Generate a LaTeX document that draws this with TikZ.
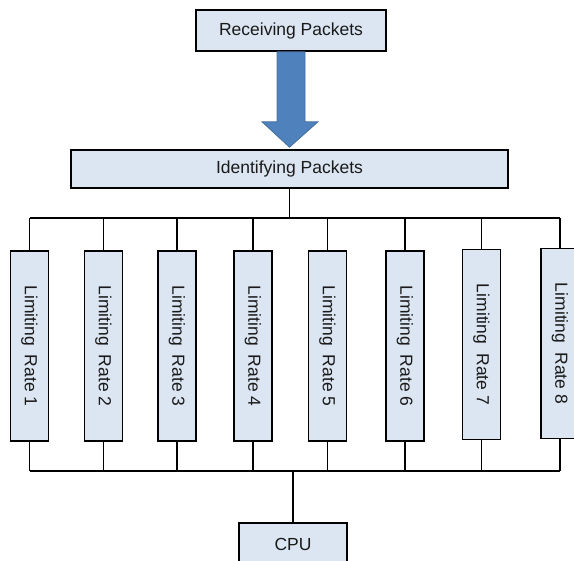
\documentclass[tikz,border=0pt]{standalone}
\usepackage{fontspec}
\setmainfont{Liberation Sans}
\usetikzlibrary{calc}
\definecolor{boxfill}{HTML}{DCE6F2}
\definecolor{arrowfill}{HTML}{4F81BD}
\definecolor{arrowedge}{HTML}{41719C}
\definecolor{txt}{HTML}{1A1A1A}
\newcommand{\lrate}[1]{Limiting\hspace{0.25em} Rate #1}
\begin{document}
\begin{tikzpicture}[x=1pt,y=-1pt,
  box/.style={draw=black,line width=1.6pt,fill=boxfill,inner sep=0pt,
    text=txt,font=\fontsize{17.5}{20}\selectfont},
  ratebox/.style={box,rotate=-90,minimum width=190pt,minimum height=38pt},
  conn/.style={draw=black,line width=1.5pt}]
\useasboundingbox (0,0) rectangle (574,561);
\node[box,minimum width=190pt,minimum height=41pt] (recv) at (291,30.5) {Receiving Packets};
\node[box,minimum width=437pt,minimum height=38pt] (ident) at (289.5,169) {Identifying Packets};
\node[box,minimum width=108pt,minimum height=42pt] (cpu) at (293,544) {CPU};
\node[ratebox] (r1) at (29.5,346) {\lrate{1}};
\node[ratebox] (r2) at (103.5,346) {\lrate{2}};
\node[ratebox] (r3) at (177,346) {\lrate{3}};
\node[ratebox] (r4) at (253,346) {\lrate{4}};
\node[ratebox] (r5) at (327.5,346) {\lrate{5}};
\node[ratebox] (r6) at (405,346) {\lrate{6}};
\node[ratebox] (r7) at (481.5,344.5) {\lrate{7}};
\node[ratebox] (r8) at (560,343.5) {\lrate{8}};
\coordinate (tb) at (0,218);
\coordinate (bb) at (0,471);
% big arrow
\filldraw[fill=arrowfill,draw=arrowedge,line width=0.8pt]
  ($(recv.south)+(-14,0)$) -- ($(recv.south)+(14,0)$) --
  ($(recv.south)+(14,70)$) -- ($(recv.south)+(27,70)$) --
  ($(ident.north)+(0,-2)$) --
  ($(recv.south)+(-29,70)$) -- ($(recv.south)+(-14,70)$) -- cycle;
% top bus
\draw[conn] (ident.south) -- (ident.south |- tb);
\draw[conn] (r1.west |- tb) -- (r8.west |- tb);
\foreach \i in {1,...,8}{
  \draw[conn] (r\i.west) -- (r\i.west |- tb);
  \draw[conn] (r\i.east) -- (r\i.east |- bb);
}
\draw[conn] (r1.east |- bb) -- (r8.east |- bb);
\draw[conn] (cpu.north) -- (cpu.north |- bb);
\end{tikzpicture}
\end{document}
